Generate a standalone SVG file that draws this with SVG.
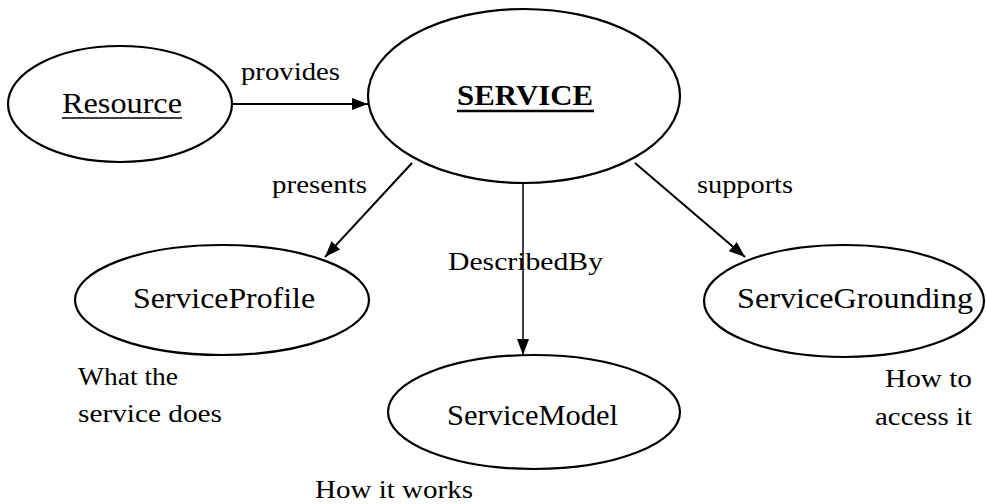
<svg xmlns="http://www.w3.org/2000/svg" width="986" height="504" viewBox="0 0 986 504">
<defs>
<style>
.node{fill:#fff;stroke:#000;stroke-width:2.2}
.t{font-family:"Liberation Serif","Times New Roman",serif;fill:#000}
.lbl{font-size:30px}
.sm{font-size:26px}
.edge{stroke:#000;stroke-width:2;fill:none}
.ul{stroke:#000;stroke-width:1.6}
</style>
<marker id="ah" viewBox="0 0 16 12" refX="16" refY="6" markerWidth="16" markerHeight="12" markerUnits="userSpaceOnUse" orient="auto">
<path d="M0,0 L16,6 L0,12 Z" fill="#000"/>
</marker>
</defs>
<rect width="986" height="504" fill="#fff"/>
<g id="connectors">
<line class="edge" x1="233" y1="104" x2="368" y2="104" marker-end="url(#ah)"/>
<line class="edge" x1="412" y1="163" x2="325" y2="257" marker-end="url(#ah)"/>
<line class="edge" style="stroke-width:1.5" x1="523" y1="183" x2="523" y2="355" marker-end="url(#ah)"/>
<line class="edge" x1="635" y1="163" x2="745" y2="257" marker-end="url(#ah)"/>
<text class="t sm" x="241" y="80" textLength="99" lengthAdjust="spacingAndGlyphs">provides</text>
<text class="t sm" x="272" y="193" textLength="95" lengthAdjust="spacingAndGlyphs">presents</text>
<text class="t sm" x="448" y="270" textLength="155" lengthAdjust="spacingAndGlyphs">DescribedBy</text>
<text class="t sm" x="697" y="193" textLength="96" lengthAdjust="spacingAndGlyphs">supports</text>
</g>
<g id="resource">
<ellipse class="node" cx="120" cy="104" rx="112" ry="58"/>
<text class="t lbl" x="62" y="113" textLength="120" lengthAdjust="spacingAndGlyphs">Resource</text>
<line class="ul" x1="62" y1="118" x2="182" y2="118"/>
</g>
<g id="service">
<ellipse class="node" cx="524" cy="96" rx="156" ry="87"/>
<text class="t lbl" style="font-weight:bold" x="457" y="105" textLength="136" lengthAdjust="spacingAndGlyphs">SERVICE</text>
<line class="ul" style="stroke-width:2.5" x1="457" y1="111" x2="594" y2="111"/>
</g>
<g id="serviceprofile">
<ellipse class="node" cx="222" cy="300" rx="147" ry="55"/>
<text class="t lbl" x="133" y="308" textLength="182" lengthAdjust="spacingAndGlyphs">ServiceProfile</text>
<text class="t sm" x="78" y="385" textLength="100" lengthAdjust="spacingAndGlyphs">What the</text>
<text class="t sm" x="78" y="422" textLength="144" lengthAdjust="spacingAndGlyphs">service does</text>
</g>
<g id="servicemodel">
<ellipse class="node" cx="534" cy="412" rx="146" ry="57"/>
<text class="t lbl" x="447" y="425" textLength="171" lengthAdjust="spacingAndGlyphs">ServiceModel</text>
<text class="t sm" x="315" y="498" textLength="158" lengthAdjust="spacingAndGlyphs">How it works</text>
</g>
<g id="servicegrounding">
<ellipse class="node" cx="844" cy="301" rx="140" ry="56"/>
<text class="t lbl" x="737" y="308" textLength="236" lengthAdjust="spacingAndGlyphs">ServiceGrounding</text>
<text class="t sm" x="885" y="387" textLength="87" lengthAdjust="spacingAndGlyphs">How to</text>
<text class="t sm" x="875" y="425" textLength="97" lengthAdjust="spacingAndGlyphs">access it</text>
</g>
</svg>
